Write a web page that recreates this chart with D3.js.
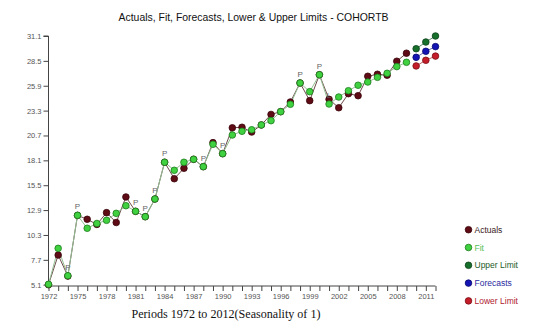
<!DOCTYPE html>
<html>
<head>
<meta charset="utf-8">
<script src="https://cdn.jsdelivr.net/npm/d3@7"></script>
<style>
  html, body { margin: 0; padding: 0; background: #fff; }
  svg { display: block; font-family: "Liberation Sans", Arial, sans-serif; }
</style>
</head>
<body>
<svg id="chart" width="540" height="331"></svg>
<script>
// ---- data ----
const years = d3.range(1972, 2010);
const actuals = [5.1, 8.2, 6.0, 12.35, 11.94, 11.4, 12.63, 11.6, 14.27, 12.77,
  12.21, 14.06, 17.9, 16.18, 17.27, 18.21, 17.44, 19.95, 18.8, 21.5,
  21.56, 21.06, 21.8, 22.9, 23.19, 24.2, 26.19, 24.34, 27.05, 24.48,
  23.6, 25.07, 24.86, 26.89, 27.1, 27.0, 28.46, 29.3];
const fit = [5.14, 8.9, 6.04, 12.35, 11.0, 11.5, 11.83, 12.56, 13.36, 12.77,
  12.21, 14.06, 17.9, 17.06, 17.9, 18.21, 17.44, 19.78, 18.8, 20.75,
  21.14, 21.3, 21.8, 22.25, 23.19, 23.96, 26.19, 25.28, 27.05, 23.99,
  24.72, 25.38, 25.95, 26.29, 26.78, 27.2, 27.9, 28.35];
const fcYears = [2010, 2011, 2012];
const upperLimit = [29.77, 30.47, 31.1];
const forecasts = [28.87, 29.5, 29.99];
const lowerLimit = [27.97, 28.56, 29.0];
const markerYears = [1974, 1975, 1981, 1982, 1983, 1984, 1988, 1990, 1998, 2000, 2001];
const markerTexts = ["P", "P", "P", "P", "P", "P", "P", "P", "P", "P", "L"];
const yTicks = [5.1, 7.7, 10.3, 12.9, 15.5, 18.1, 20.7, 23.3, 25.9, 28.5, 31.1];
const xTickLabels = d3.range(1972, 2012, 3);
const legendNames = ["Actuals", "Fit", "Upper Limit", "Forecasts", "Lower Limit"];
const titleText = "Actuals, Fit, Forecasts, Lower & Upper Limits - COHORTB";
const xTitle = "Periods 1972 to 2012(Seasonality of 1)";

// ---- styles ----
const colors = {
  "Actuals": { fill: "#5e0b16", stroke: "#3a0509", line: "#6d4a4a", text: "#3a1a1a" },
  "Fit": { fill: "#3fd13f", stroke: "#1d7a1d", line: "#93bf93", text: "#55c055" },
  "Upper Limit": { fill: "#16702c", stroke: "#0b4018", line: "#5a8a66", text: "#1d5a2a" },
  "Forecasts": { fill: "#1414b4", stroke: "#0a0a70", line: "#6a6ab0", text: "#2a2aa0" },
  "Lower Limit": { fill: "#c41c28", stroke: "#7a1018", line: "#c06060", text: "#b02030" }
};

const svg = d3.select("#chart");
const x = d3.scaleLinear().domain([1972, 2012]).range([48.5, 435.5]);
const y = d3.scaleLinear().domain([5.1, 31.1]).range([284.7, 36]);

// title
svg.append("text").attr("x", 253.5).attr("y", 21).attr("text-anchor", "middle")
  .attr("font-size", 10.5).attr("fill", "#111")
  .attr("textLength", 270).attr("lengthAdjust", "spacingAndGlyphs").text(titleText);

// axes
const yAxis = d3.axisLeft(y).tickValues(yTicks).tickFormat(d3.format(".1f")).tickSize(5).tickPadding(2);
const gy = svg.append("g").attr("transform", "translate(48.5,0)").call(yAxis);
gy.select(".domain").attr("stroke", "#444").attr("d", `M-5,${y(31.1)}H0V${y(5.1) + 1.3}`);
gy.selectAll(".tick line").attr("stroke", "#444");
gy.selectAll(".tick text").attr("font-size", 7.5).attr("fill", "#555").attr("font-family", "Liberation Sans, Arial, sans-serif");

const xAxis = d3.axisBottom(x).tickValues(d3.range(1972, 2013)).tickSize(5)
  .tickFormat(d => xTickLabels.includes(d) ? d : "").tickPadding(3);
const gx = svg.append("g").attr("transform", "translate(0,286)").call(xAxis);
gx.select(".domain").attr("stroke", "#444").attr("d", `M${x(1972)},0H${x(2012)}`);
gx.selectAll(".tick line").attr("stroke", "#444");
gx.selectAll(".tick text").attr("font-size", 7.5).attr("fill", "#555").attr("font-family", "Liberation Sans, Arial, sans-serif");

svg.append("text").attr("x", 226).attr("y", 318).attr("text-anchor", "middle")
  .attr("font-size", 13).attr("fill", "#111").attr("font-family", "Liberation Serif, Times New Roman, serif")
  .attr("textLength", 189).attr("lengthAdjust", "spacingAndGlyphs")
  .text(xTitle);

// lines
const line = d3.line().x(d => x(d[0])).y(d => y(d[1]));
function series(name, xs, vs) { return { name, pts: xs.map((yr, i) => [yr, vs[i]]) }; }
const all = [
  series("Actuals", years, actuals),
  series("Upper Limit", fcYears, upperLimit),
  series("Forecasts", fcYears, forecasts),
  series("Lower Limit", fcYears, lowerLimit),
  series("Fit", years, fit)
];
svg.append("g").selectAll("path").data(all).join("path")
  .attr("d", s => line(s.pts)).attr("fill", "none")
  .attr("stroke", s => colors[s.name].line).attr("stroke-width", 1);

// points
all.forEach(s => {
  svg.append("g").selectAll("circle").data(s.pts).join("circle")
    .attr("cx", d => x(d[0])).attr("cy", d => y(d[1])).attr("r", 3.3)
    .attr("fill", colors[s.name].fill).attr("stroke", colors[s.name].stroke).attr("stroke-width", 0.8);
});

// markers
svg.append("g").selectAll("text").data(markerYears).join("text")
  .attr("x", d => x(d)).attr("y", (d, i) => y(fit[years.indexOf(d)]) - 6)
  .attr("text-anchor", "middle").attr("font-size", 8).attr("fill", "#666")
  .text((d, i) => markerTexts[i]);

// legend
const lg = svg.append("g").selectAll("g").data(legendNames).join("g")
  .attr("transform", (d, i) => `translate(468.5,${229.7 + i * 17.8})`);
lg.append("circle").attr("r", 3.3).attr("fill", d => colors[d].fill).attr("stroke", d => colors[d].stroke).attr("stroke-width", 0.8);
lg.append("text").attr("x", 6).attr("y", 3).attr("font-size", 8.5)
  .attr("fill", d => colors[d].text).text(d => d);
</script>
</body>
</html>
